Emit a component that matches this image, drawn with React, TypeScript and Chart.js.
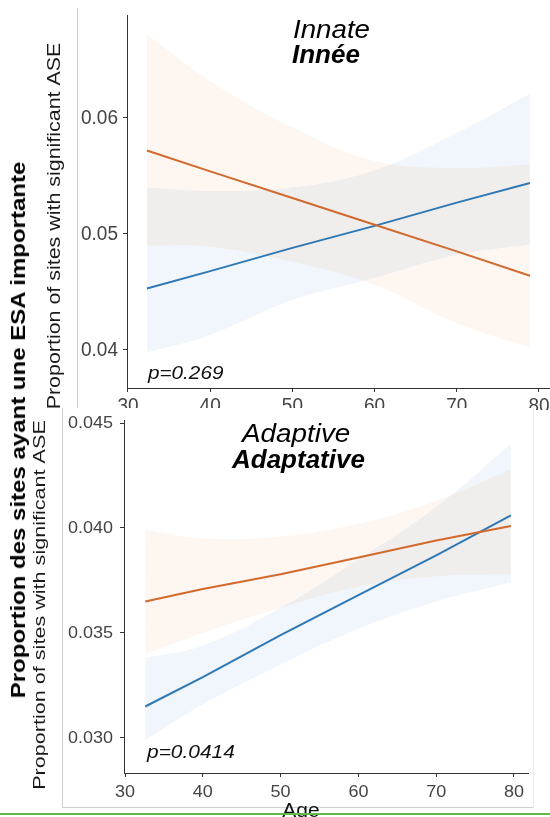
import React, { useEffect, useRef } from "react";
import { Chart, registerables } from "chart.js";

Chart.register(...registerables);

// ---- Innate panel (age vs proportion of sites with significant ASE) ----
const innateAges = [32.3, 40, 50, 60, 70, 78.9];
const innateOrangeFit = [0.0572, 0.0554, 0.0531, 0.0508, 0.0485, 0.0464];
const innateOrangeLow = [0.049, 0.0489, 0.0476, 0.0456, 0.0423, 0.0402];
const innateOrangeHigh = [0.0672, 0.0632, 0.0592, 0.0563, 0.0557, 0.056];
const innateBlueFit = [0.0453, 0.0468, 0.0488, 0.0507, 0.0527, 0.0544];
const innateBlueLow = [0.0398, 0.0413, 0.0443, 0.0462, 0.0482, 0.0491];
const innateBlueHigh = [0.054, 0.0537, 0.054, 0.0555, 0.0587, 0.0621];
const innateYTicks = [0.04, 0.05, 0.06];
const innateYLabels = ["0.04", "0.05", "0.06"];
const innateP = "p=0.269";

// ---- Adaptive panel ----
const adaptiveAges = [32.6, 40, 50, 60, 70, 79.6];
const adaptiveOrangeFit = [0.0365, 0.0371, 0.0378, 0.0386, 0.0394, 0.0401];
const adaptiveOrangeLow = [0.034, 0.035, 0.0362, 0.0372, 0.0377, 0.0378];
const adaptiveOrangeHigh = [0.0399, 0.0395, 0.0396, 0.0402, 0.0413, 0.0428];
const adaptiveBlueFit = [0.0315, 0.0329, 0.0349, 0.0368, 0.0387, 0.0406];
const adaptiveBlueLow = [0.0299, 0.0316, 0.0335, 0.0352, 0.0365, 0.0374];
const adaptiveBlueHigh = [0.0338, 0.0344, 0.0362, 0.0385, 0.041, 0.044];
const adaptiveYTicks = [0.03, 0.035, 0.04, 0.045];
const adaptiveYLabels = ["0.030", "0.035", "0.040", "0.045"];
const adaptiveP = "p=0.0414";

const ageTicks = [30, 40, 50, 60, 70, 80];
const ageLabels = ["30", "40", "50", "60", "70", "80"];

const ORANGE = "#d2692d";
const BLUE = "#2e78b5";
const ORANGE_BAND = "rgba(235,140,70,0.075)";
const BLUE_BAND = "rgba(70,140,210,0.08)";
const FONT = '"Liberation Sans", Arial, Helvetica, sans-serif';

type TextOpts = {
  size: number;
  weight?: string;
  style?: string;
  color?: string;
  align?: CanvasTextAlign;
  baseline?: CanvasTextBaseline;
  sx?: number;
  sy?: number;
  rot?: number;
};

function drawText(ctx: CanvasRenderingContext2D, s: string, x: number, y: number, o: TextOpts) {
  ctx.save();
  ctx.translate(x, y);
  if (o.rot) ctx.rotate(o.rot);
  ctx.scale(o.sx ?? 1, o.sy ?? 1);
  ctx.font = `${o.style ?? "normal"} ${o.weight ?? "normal"} ${o.size}px ${FONT}`;
  ctx.fillStyle = o.color ?? "#000";
  ctx.textAlign = o.align ?? "left";
  ctx.textBaseline = o.baseline ?? "alphabetic";
  ctx.fillText(s, 0, 0);
  ctx.restore();
}

const pts = (xs: number[], ys: number[]) => xs.map((x, i) => ({ x, y: ys[i] }));

function datasets(ages: number[], oFit: number[], oLow: number[], oHigh: number[], bFit: number[], bLow: number[], bHigh: number[]) {
  const line = (ys: number[], color: string) => ({
    data: pts(ages, ys),
    borderColor: color,
    borderWidth: 2,
    pointRadius: 0,
    fill: false,
    tension: 0,
  });
  const edge = (ys: number[], color: string, fill: any) => ({
    data: pts(ages, ys),
    borderColor: "rgba(0,0,0,0)",
    borderWidth: 1,
    pointRadius: 0,
    backgroundColor: color,
    fill,
    tension: 0.4,
  });
  return [
    line(oFit, ORANGE),
    line(bFit, BLUE),
    edge(oLow, ORANGE_BAND, false),
    edge(oHigh, ORANGE_BAND, 2),
    edge(bLow, BLUE_BAND, false),
    edge(bHigh, BLUE_BAND, 4),
  ];
}

function scales(xMin: number, xMax: number, yMin: number, yMax: number, yTicks: number[]) {
  const common = {
    type: "linear" as const,
    grid: { drawOnChartArea: false, drawTicks: true, tickLength: 4, color: "#333", lineWidth: 1 },
    border: { display: true, color: "#333", width: 1 },
    ticks: { display: false },
  };
  return {
    x: {
      ...common,
      min: xMin,
      max: xMax,
      afterBuildTicks: (s: any) => {
        s.ticks = ageTicks.map((v) => ({ value: v }));
      },
      afterFit: (s: any) => {
        s.height = 0;
      },
    },
    y: {
      ...common,
      min: yMin,
      max: yMax,
      afterBuildTicks: (s: any) => {
        s.ticks = yTicks.map((v) => ({ value: v }));
      },
      afterFit: (s: any) => {
        s.width = 0;
      },
    },
  };
}

const innateText = {
  id: "innateText",
  beforeDraw(chart: any) {
    const ctx = chart.ctx as CanvasRenderingContext2D;
    ctx.save();
    ctx.fillStyle = "#cfcfcf";
    ctx.fillRect(77, 8, 1, 402);
    ctx.restore();
  },
  afterDraw(chart: any) {
    const ctx = chart.ctx as CanvasRenderingContext2D;
    const { x, y } = chart.scales;
    const area = chart.chartArea;
    innateYTicks.forEach((v, i) =>
      drawText(ctx, innateYLabels[i], area.left - 9, y.getPixelForValue(v), {
        size: 19, color: "#444", align: "right", baseline: "middle", sy: 1.08,
      })
    );
    ageTicks.forEach((v, i) =>
      drawText(ctx, ageLabels[i], x.getPixelForValue(v), area.bottom + 23.5, {
        size: 19, color: "#444", align: "center", sy: 1.08,
      })
    );
    drawText(ctx, "Proportion of sites with significant ASE", 55, 226, {
      size: 18, color: "#1a1a1a", align: "center", baseline: "middle", rot: -Math.PI / 2, sx: 1.19,
    });
    drawText(ctx, "Innate", 293, 38, { size: 26, style: "italic", sx: 1.065 });
    drawText(ctx, "Innée", 292, 63, { size: 26, style: "italic", weight: "bold" });
    drawText(ctx, innateP, 148, 379, { size: 18, style: "italic", color: "#111", sx: 1.15 });
  },
};

const adaptiveText = {
  id: "adaptiveText",
  beforeDraw(chart: any) {
    const ctx = chart.ctx as CanvasRenderingContext2D;
    ctx.save();
    ctx.fillStyle = "#fff";
    ctx.fillRect(62, 0, 471, 399);
    ctx.fillStyle = "#cfcfcf";
    ctx.fillRect(62, 0, 1, 399);
    ctx.fillRect(62, 399, 471, 1);
    ctx.fillStyle = "#ececec";
    ctx.fillRect(533, 0, 1, 400);
    ctx.restore();
  },
  afterDraw(chart: any) {
    const ctx = chart.ctx as CanvasRenderingContext2D;
    const { x, y } = chart.scales;
    const area = chart.chartArea;
    adaptiveYTicks.forEach((v, i) =>
      drawText(ctx, adaptiveYLabels[i], area.left - 11, y.getPixelForValue(v), {
        size: 18, color: "#444", align: "right", baseline: "middle", sy: 0.95,
      })
    );
    ageTicks.forEach((v, i) =>
      drawText(ctx, ageLabels[i], x.getPixelForValue(v), area.bottom + 24, {
        size: 18, color: "#444", align: "center", sy: 0.95,
      })
    );
    drawText(ctx, "Proportion of sites with significant ASE", 40, 197, {
      size: 17, color: "#1a1a1a", align: "center", baseline: "middle", rot: -Math.PI / 2, sx: 1.27,
    });
    drawText(ctx, "Adaptive", 242, 34, { size: 26, style: "italic", sx: 1.07 });
    drawText(ctx, "Adaptative", 232, 60, { size: 26, style: "italic", weight: "bold" });
    drawText(ctx, adaptiveP, 147, 350, { size: 18.5, style: "italic", color: "#111", sx: 1.13 });
    drawText(ctx, "Age", 301, 409, { size: 21, color: "#111", align: "center" });
  },
};

export default function App() {
  const topRef = useRef<HTMLCanvasElement>(null);
  const botRef = useRef<HTMLCanvasElement>(null);

  useEffect(() => {
    const baseOptions = {
      responsive: false,
      maintainAspectRatio: false,
      animation: false as const,
      events: [] as any[],
      plugins: { legend: { display: false }, tooltip: { enabled: false }, title: { display: false } },
    };

    const top = new Chart(topRef.current!, {
      type: "line",
      data: {
        datasets: datasets(innateAges, innateOrangeFit, innateOrangeLow, innateOrangeHigh, innateBlueFit, innateBlueLow, innateBlueHigh) as any,
      },
      options: {
        ...baseOptions,
        layout: { padding: { left: 127, right: 0, top: 15, bottom: 22 } },
        scales: scales(29.88, 81.34, 0.03672, 0.06888, innateYTicks) as any,
      },
      plugins: [innateText],
    });

    const bottom = new Chart(botRef.current!, {
      type: "line",
      data: {
        datasets: datasets(adaptiveAges, adaptiveOrangeFit, adaptiveOrangeLow, adaptiveOrangeHigh, adaptiveBlueFit, adaptiveBlueLow, adaptiveBlueHigh) as any,
      },
      options: {
        ...baseOptions,
        layout: { padding: { left: 124, right: 22, top: 12, bottom: 44 } },
        scales: scales(29.87, 81.8, 0.028333, 0.045143, adaptiveYTicks) as any,
      },
      plugins: [adaptiveText],
    });

    return () => {
      top.destroy();
      bottom.destroy();
    };
  }, []);

  return (
    <div
      style={{
        position: "absolute",
        left: 0,
        top: 0,
        width: 550,
        height: 817,
        background: "#fff",
        overflow: "hidden",
      }}
    >
      <canvas
        ref={topRef}
        width={550}
        height={410}
        style={{ position: "absolute", left: 0, top: 0, width: 550, height: 410 }}
      />
      <canvas
        ref={botRef}
        width={550}
        height={409}
        style={{ position: "absolute", left: 0, top: 408, width: 550, height: 409 }}
      />
      <div
        style={{
          position: "absolute",
          left: 18,
          top: 430,
          transform: "translate(-50%, -50%) rotate(-90deg) scaleX(1.2)",
          whiteSpace: "nowrap",
          font: `bold 20px ${FONT}`,
          lineHeight: "20px",
          color: "#000",
        }}
      >
        Proportion des sites ayant une ESA importante
      </div>
      <div
        style={{
          position: "absolute",
          left: 0,
          top: 813,
          width: 550,
          height: 2,
          background: "#62b84a",
        }}
      />
    </div>
  );
}
